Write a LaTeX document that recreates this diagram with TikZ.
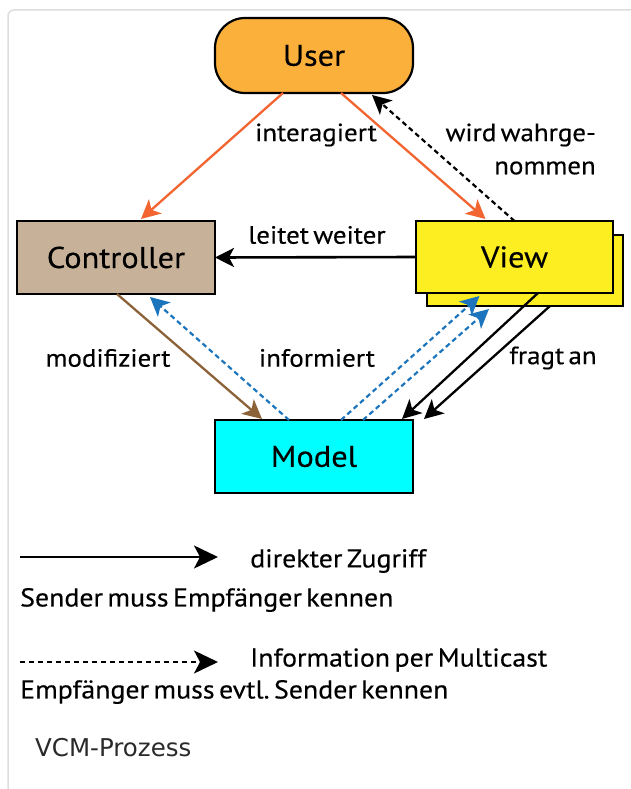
\documentclass[tikz,border=0pt]{standalone}
\usepackage{fontspec}
\setmainfont{PT Sans}[FakeStretch=1.08,FakeBold=0.35,WordSpace=0.6]
\newfontfamily\captionfont{DejaVu Sans}
\usetikzlibrary{arrows.meta}
\frenchspacing
\definecolor{userorange}{HTML}{FBB03B}
\definecolor{ctrltan}{HTML}{C7B299}
\definecolor{viewyellow}{HTML}{FCEE21}
\definecolor{modelcyan}{HTML}{00FFFF}
\definecolor{arroworange}{HTML}{F26531}
\definecolor{arrowbrown}{HTML}{8C6239}
\definecolor{arrowblue}{HTML}{1C75BC}
\definecolor{framegray}{HTML}{DDDDDD}
\definecolor{captiongray}{HTML}{2A2A2A}
\begin{document}
\begin{tikzpicture}[x=1pt,y=-1pt,
  box/.style={draw=black, line width=2.2pt, minimum width=198pt, minimum height=73pt,
    font=\fontsize{30}{34}\selectfont, inner sep=0pt, outer sep=0pt},
  lbl/.style={font=\fontsize{25}{29}\selectfont, inner sep=0pt},
  leg/.style={font=\fontsize{25.8}{29}\selectfont, inner sep=0pt, anchor=west},
  tip/.style={-{Stealth[length=19pt,width=19pt,inset=5pt]}},
  conn/.style={tip, line width=2.3pt},
  dotconn/.style={conn, line width=2.2pt, dash pattern=on 5pt off 3.5pt},
  legtip/.style={-{Stealth[length=24pt,width=23pt,inset=6pt]}, line width=2pt}
]
\useasboundingbox (0,0) rectangle (630,789);
% outer frame
\draw[framegray, line width=1.5pt, rounded corners=6pt] (8,789) -- (8,10) -- (640,10);

% boxes
\node[box, fill=userorange, rounded corners=30pt, minimum height=75pt] (user) at (314,55.5) {User};
\node[box, fill=ctrltan] (ctrl) at (116,257.5) {Controller};
\node[box, fill=viewyellow, minimum width=196pt, minimum height=71pt] (viewback) at (525,270.5) {};
\node[box, fill=viewyellow, minimum width=197pt, minimum height=72pt] (view) at (514.5,257) {View};
\node[box, fill=modelcyan] (model) at (314,456.5) {Model};

% connectors
\draw[conn, arroworange] ([xshift=-31pt]user.south) -- ([xshift=25pt,yshift=2pt]ctrl.north);
\draw[conn, arroworange] ([xshift=27pt]user.south) -- ([xshift=-29pt,yshift=2pt]view.north);
\draw[dotconn, black] ([xshift=0pt]view.north) -- ([xshift=58pt,yshift=-2pt]user.south);
\draw[conn, black, line width=2.6pt] (view.west) -- (ctrl.east);
\draw[conn, arrowbrown] ([xshift=1pt]ctrl.south) -- ([xshift=-52pt,yshift=1pt]model.north);
\draw[dotconn, arrowblue] ([xshift=-25pt]model.north) -- ([xshift=34pt,yshift=-3pt]ctrl.south);
\draw[dotconn, arrowblue] ([xshift=27pt]model.north) -- ([xshift=-35pt,yshift=-3pt]view.south);
\draw[dotconn, arrowblue] ([xshift=49pt]model.north) -- ([xshift=-36pt,yshift=-3pt]viewback.south);
\draw[conn, black] ([xshift=23.5pt]view.south) -- ([xshift=88pt,yshift=1pt]model.north);
\draw[conn, black] ([xshift=25pt]viewback.south) -- ([xshift=110pt,yshift=1pt]model.north);

% connector labels
\node[lbl] (linteragiert) at (316,135) {interagiert};
\node[lbl, anchor=east] (lwird) at (596,135) {wird wahrge-};
\node[lbl, anchor=east] (lnommen) at (596,168) {nommen};
\node[lbl] (lleitet) at (317,235) {leitet weiter};
\node[lbl] (lmodif) at (108,358) {modifiziert};
\node[lbl] (linform) at (317,358) {informiert};
\node[lbl] (lfragt) at (553,358) {fragt an};

% legend
\coordinate (solidA) at (20,557);
\coordinate (solidB) at (218,557);
\draw[legtip] (solidA) -- (solidB);
\node[leg] (ldirekt) at (250,561) {direkter Zugriff};
\node[leg] (lsender) at (20,600) {Sender muss Empfänger kennen};
\coordinate (dashA) at (20,662);
\coordinate (dashB) at (218,662);
\draw[legtip, line width=1.6pt, dash pattern=on 5pt off 4pt] (dashA) -- (dashB);
\node[leg] (linfo) at (250,660) {Information per Multicast};
\node[leg] (lempf) at (20,692) {Empfänger muss evtl. Sender kennen};

% caption
\node[anchor=west, inner sep=0pt, text=captiongray, font=\captionfont\fontsize{24.5}{28}\selectfont] (caption) at (35,748) {VCM-Prozess};
\end{tikzpicture}
\end{document}
